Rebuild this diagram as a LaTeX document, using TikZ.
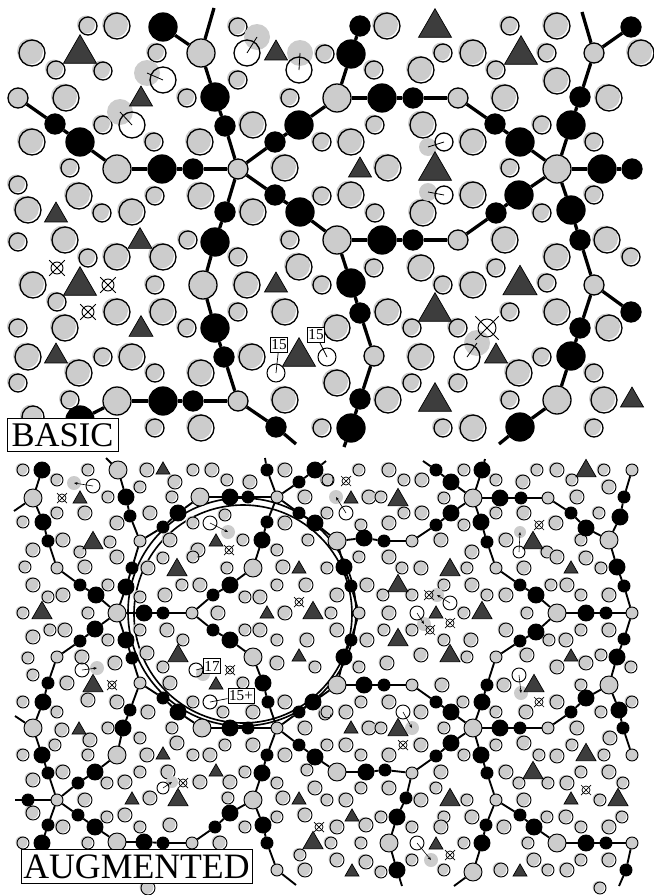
\documentclass[tikz,border=0pt]{standalone}
\usepackage{fontspec}
\setmainfont{Liberation Serif}
\usetikzlibrary{arrows.meta}

\begin{document}
\begin{tikzpicture}[
    x=0.03cm, y=-0.03cm,
    rim/.style={line width=1.1pt},
    thinrim/.style={line width=0.8pt},
    disk/.style={fill=gray!40},
    gbig/.style={circle, draw, line width=1.1pt, fill=gray!40, inner sep=0pt, minimum size=0.84cm},
    gsmall/.style={gbig, minimum size=0.6cm},
    kbig/.style={gbig, fill=black},
    ksmall/.style={gsmall, fill=black},
    pbig/.style={circle, draw, line width=0.8pt, fill=gray!40, inner sep=0pt, minimum size=0.54cm},
    psmall/.style={pbig, minimum size=0.36cm},
    ubig/.style={pbig, fill=black, minimum size=0.48cm},
    vsmall/.style={pbig, fill=black, minimum size=0.36cm},
    bond/.style={line width=2.8pt},
    bondthin/.style={line width=1.6pt},
    tri/.style={fill=black!76, draw=black, line width=0.6pt},
    numtag/.style={draw, fill=white, line width=0.6pt, inner xsep=1pt, inner ysep=2pt, font=\fontsize{13}{13}\selectfont},
    paneltitle/.style={draw, fill=white, line width=0.7pt, inner xsep=4pt, inner ysep=4.5pt, font=\fontsize{29.5}{30}\selectfont},
    ring/.style={circle, draw, line width=0.9pt, inner sep=0pt, minimum size=0.54cm}
]
\useasboundingbox (0,0) rectangle (654,895);

% ---------------- BASIC panel ----------------
% loose atoms
\foreach \x/\y/\rad in {88/26/9, 117/26/13, 32/53/13, 56/70/9, 103/71/9, 157/53/9, 238/27/9, 325/54/9, 238/80/9, 187/98/9, 66/98/13, 103/125/9, 253/125/13, 290/98/9, 32/142/13, 154/142/9, 200/142/13, 322/142/9, 70/168/9, 285/168/13, 18/185/9, 79/196/13, 155/196/9, 201/196/13, 322/196/9, 28/210/13, 102/213/9, 132/212/13, 253/212/13,
    387/26/13, 510/26/9, 557/26/13, 374/70/9, 421/70/13, 443/53/9, 473/53/13, 547/53/9, 496/70/9, 557/81/13, 609/98/13, 641/53/13, 505/98/13, 375/125/9, 423/125/13, 542/125/9, 351/142/13, 473/142/13, 594/142/9, 388/168/13, 510/168/9, 351/195/13, 473/195/13, 594/195/9, 375/213/9, 423/213/13, 542/213/9,
    18/242/9, 65/240/13, 188/240/9, 88/258/9, 117/257/13, 163/257/13, 238/257/9, 290/240/9, 299/267/13, 322/285/9, 33/285/13, 155/285/9, 247/285/13, 57/302/9, 117/312/13, 163/312/13, 238/312/9, 285/312/13, 18/328/9, 65/328/13, 187/328/9, 28/357/13, 103/357/9, 132/357/13, 252/357/13, 18/383/9, 79/373/13, 155/373/9, 201/373/13, 70/400/9, 285/400/13, 155/428/9, 201/428/13, 322/428/9, 33/417/11,
    505/240/13, 607/240/13, 631/257/9, 374/268/9, 421/268/13, 496/268/9, 557/257/13, 443/285/9, 473/285/13, 547/283/9, 388/312/13, 412/328/9, 458/328/9, 510/312/9, 557/312/13, 609/328/13, 337/328/13, 421/357/13, 542/357/9, 519/373/13, 337/383/13, 412/383/9, 458/383/9, 594/373/9, 388/400/13, 510/400/9, 604/400/13, 443/428/9, 473/428/13, 594/428/9}
{
    \fill[disk] (\x-2,\y-1.5) circle (\rad);
    \draw[rim] (\x,\y) circle (\rad);
}

% displaced atoms
\foreach \x/\y/\rad/\gx/\gy in {247/53/13/257/37, 299/70/13/300/53, 163/80/13/147/73, 132/125/13/120/112, 444/142/9/428/147, 444/195/9/428/192, 467/357/13/477/343}
{
    \fill[disk] (\gx,\gy) circle (\rad);
    \draw[rim] (\x,\y) circle (\rad);
    \draw[line width=0.7pt] (\x,\y) -- (\gx,\gy);
}

% triangles
\foreach \x/\y/\sz in {80/49/33, 276/50/23, 141/96/23, 56/212/23, 435/23/33, 521/50/33, 360/167/23, 435/166/33, 140/238/24, 80/281/33, 276/282/23, 141/326/24, 56/353/23, 299/352/33, 435/307/33, 520/280/34, 496/353/23, 435/397/33, 632/397/23}
    \filldraw[tri] (\x-\sz/2,\y+0.433*\sz) -- (\x+\sz/2,\y+0.433*\sz) -- (\x,\y-0.433*\sz) -- cycle;

% crossed sites
\foreach \x/\y/\rad in {57/268/6, 108/285/6, 88/312/6, 487/328/9}
{
    \draw[thinrim] (\x,\y) circle (\rad);
    \draw[thinrim] (\x-1.3*\rad,\y-1.3*\rad) -- (\x+1.3*\rad,\y+1.3*\rad);
    \draw[thinrim] (\x-1.3*\rad,\y+1.3*\rad) -- (\x+1.3*\rad,\y-1.3*\rad);
}

% network
\foreach \n/\x/\y in {g1/201/53, g2/117/169, g3/337/98, g4/557/169, g5/203/285, g6/117/401, g7/337/240, g8/557/400}
    \node[gbig] (\n) at (\x,\y) {};
\foreach \n/\x/\y in {h1/238/169, s1/18/98, s2/458/98, s3/594/53, s4/238/401, s5/458/240, s6/374/356, s7/594/285}
    \node[gsmall] (\n) at (\x,\y) {};
\foreach \n/\x/\y in {k1/163/27, k2/215/97, k3/80/142, k4/162/169, k5/299/125, k6/300/212, k7/351/54, k8/382/98, k9/520/142, k10/602/169, k11/571/125, k12/519/195, k13/571/210, k14/215/242, k15/215/328, k16/163/401, k17/80/420, k18/382/240, k19/351/283, k20/351/428, k21/571/356, k22/520/427}
    \node[kbig] (\n) at (\x,\y) {};
\foreach \n/\x/\y in {m1/225/126, m2/55/124, m3/193/169, m4/275/142, m5/275/195, m6/225/212, m7/360/26, m8/413/98, m9/495/124, m10/632/169, m11/580/97, m12/631/27, m13/496/213, m14/224/357, m15/193/401, m16/276/427, m17/413/240, m18/360/313, m19/360/399, m20/580/240, m21/631/312, m22/580/328}
    \node[ksmall] (\n) at (\x,\y) {};
\coordinate (e1) at (214,8);
\coordinate (e2) at (582,12);
\coordinate (e3) at (296,444);
\coordinate (e4) at (499,444);
\coordinate (e5) at (344,447);

\foreach \a/\b in {e1/g1, k1/g1, g1/k2, k2/m1, m1/h1, s1/m2, m2/k3, k3/g2, g2/k4, k4/m3, m3/h1,
    h1/m4, m4/k5, k5/g3, g3/k7, k7/m7, g3/k8, k8/m8, m8/s2, s2/m9, m9/k9, k9/g4,
    g4/k10, k10/m10, g4/k11, k11/m11, m11/s3, s3/e2, s3/m12,
    h1/m5, m5/k6, k6/g7, g4/k12, k12/m13, m13/s5, s5/m17, m17/k18, k18/g7,
    h1/m6, m6/k14, k14/g5, g5/k15, k15/m14, m14/s4, s4/m15, m15/k16, k16/g6, g6/k17, s4/m16, m16/e3,
    g7/k19, k19/m18, m18/s6, s6/m19, m19/k20, k20/e5,
    g4/k13, k13/m20, m20/s7, s7/m21, s7/m22, m22/k21, k21/g8, g8/k22, k22/e4}
    \draw[bond] (\a) -- (\b);

% marked sites
\node[ring] (c15a) at (276,373) {};
\node[ring] (c15b) at (327,357) {};
\node[numtag] (t15a) at (279,345) {15};
\node[numtag] (t15b) at (316,335) {15};
\draw[line width=0.6pt] (t15a) -- (c15a.center);
\draw[line width=0.6pt] (t15b) -- (c15b.center);

\node[paneltitle] (basic) at (62.5,435) {BASIC};

% ---------------- AUGMENTED panel ----------------
\draw[line width=1.4pt] (242,612) circle (114);
\draw[line width=1.4pt] (243,614) circle (109);

% loose atoms
\foreach \x/\y/\rad in {23/470/6, 57/480/6, 88/470/6, 147/470/7, 175/482/7, 193/470/6, 212/470/7, 227/480/6, 250/482/7, 285/470/7, 327/480/6, 108/497/6, 140/487/6, 172/497/6, 305/497/7, 23/522/6, 57/513/6, 85/513/7, 117/523/7, 150/513/7, 193/523/6, 225/515/6, 285/523/7, 33/550/7, 63/540/7, 110/542/6, 80/552/6, 170/540/7, 198/550/7, 243/540/6, 277/550/6, 308/540/6, 25/567/6, 85/567/7, 117/557/7, 148/568/7, 163/558/6, 193/557/6, 227/568/6, 283/567/7, 33/585/7, 48/597/6, 63/595/7, 108/585/6, 140/597/6, 165/595/7, 182/585/6, 200/585/7, 245/597/6, 260/597/7, 277/585/6, 306/585/7, 23/613/6, 88/613/6, 218/613/7, 285/613/7, 33/637/7, 50/630/6, 65/630/7, 108/640/6, 140/630/6, 167/630/7, 183/640/6, 245/630/6, 260/630/7, 277/640/6, 307/640/7, 28/658/6, 82/657/7, 115/663/7, 147/653/7, 163/667/6, 277/663/7, 315/667/6,
    328/480/6, 359/470/6, 389/470/7, 404/480/6, 422/480/7, 464/470/6, 496/480/6, 523/482/7, 537/470/6, 557/470/7, 572/480/6, 604/470/6, 609/487/7, 369/497/7, 381/497/6, 444/498/6, 577/497/7, 327/513/6, 361/525/6, 389/523/7, 404/513/6, 422/513/7, 464/525/6, 496/513/6, 524/513/7, 556/523/7, 599/513/6, 441/540/7, 506/540/7, 547/552/6, 557/557/7, 581/540/6, 586/558/7, 601/568/6, 327/568/6, 359/557/6, 389/557/7, 402/568/6, 421/568/7, 467/568/6, 472/552/7, 524/568/7, 567/585/7, 337/595/7, 367/585/7, 383/595/6, 412/595/6, 444/585/6, 472/585/7, 487/595/6, 506/595/7, 551/585/6, 581/595/6, 609/595/7, 331/613/6, 389/613/7, 464/613/6, 527/613/6, 337/630/7, 367/640/7, 384/630/6, 412/630/6, 444/640/6, 471/640/7, 506/630/7, 549/640/6, 566/640/7, 581/630/6, 609/630/7, 359/667/6, 387/663/7, 421/655/7, 467/657/6, 527/655/7, 557/667/7, 586/663/7, 601/655/6, 631/667/6,
    33/675/6, 67/683/7, 23/702/6, 57/712/6, 88/700/7, 117/702/7, 148/712/7, 170/683/7, 193/702/6, 223/712/6, 243/683/6, 253/712/7, 285/702/7, 325/714/6, 305/728/7, 62/730/7, 90/740/7, 108/728/6, 140/738/6, 172/728/6, 177/743/7, 55/745/6, 23/755/6, 88/755/6, 147/755/7, 193/755/6, 210/755/7, 225/745/6, 253/745/7, 285/755/7, 33/780/7, 63/772/7, 107/783/6, 125/782/7, 140/772/6, 168/772/7, 200/782/7, 230/782/7, 245/772/6, 277/783/6, 307/770/6, 315/788/7, 85/800/7, 150/798/7, 228/798/6, 283/798/7, 33/813/7, 63/827/7, 107/817/6, 125/815/7, 140/827/6, 170/825/7, 245/827/6, 277/817/6, 305/815/7, 23/843/6, 88/843/6, 220/843/7, 300/855/6, 305/870/7, 148/888/7,
    361/702/6, 389/702/7, 421/712/7, 442/685/7, 463/702/6, 496/712/6, 504/685/7, 557/702/7, 581/685/6, 601/712/6, 632/702/6, 526/712/7, 327/712/6, 346/712/7, 369/728/7, 381/728/6, 444/728/6, 577/728/7, 610/738/7, 327/745/6, 346/745/7, 361/755/6, 389/755/7, 421/745/7, 464/755/6, 496/745/6, 524/743/7, 539/755/6, 557/756/7, 572/745/6, 604/755/6, 441/772/7, 506/772/7, 519/783/6, 548/783/6, 567/783/7, 581/772/6, 609/772/7, 623/783/6, 327/800/6, 346/800/7, 361/788/6, 389/788/7, 421/800/7, 436/788/6, 467/800/6, 524/800/7, 600/800/6, 381/817/6, 444/817/6, 472/817/7, 547/817/6, 566/817/7, 622/817/6, 337/827/7, 366/825/7, 412/827/6, 441/827/7, 504/827/7, 581/827/6, 609/827/7, 331/843/6, 361/843/6, 464/843/6, 528/843/6, 337/860/7, 366/862/7, 381/872/6, 412/860/6, 444/870/6, 501/870/7, 534/860/7, 548/870/6, 567/870/7, 581/860/6, 609/860/7, 600/888/6}
{
    \fill[disk] (\x-1.5,\y-1) circle (\rad);
    \draw[thinrim] (\x,\y) circle (\rad);
}

% displaced atoms
\foreach \x/\y/\rad/\gx/\gy in {93/486/7/74/483, 210/523/7/228/532, 346/513/7/336/497, 519/552/6/520/532, 450/603/7/437/595, 417/613/7/424/624, 82/670/7/97/668, 163/788/6/172/782, 403/712/7/412/728, 519/675/7/521/693, 417/843/7/431/860}
{
    \fill[disk] (\gx,\gy) circle (\rad);
    \draw[thinrim] (\x,\y) circle (\rad);
    \draw[line width=0.5pt, -{Stealth[length=3pt, width=2.4pt]}] (\x,\y) -- (\gx,\gy);
}

% triangles
\foreach \x/\y/\sz in {163/468/14, 80/497/14, 93/540/20, 216/540/14, 177/567/20, 299/567/14, 42/610/20, 267/612/14, 313/610/20, 178/653/20, 299/655/14,
    586/468/20, 351/497/14, 398/497/20, 533/540/20, 450/567/20, 571/567/14, 398/583/20, 436/612/14, 482/610/20, 398/637/20, 450/653/20, 571/655/14,
    93/683/20, 216/683/14, 79/728/14, 163/753/14, 216/770/14, 132/798/14, 178/797/20, 299/798/14, 313/840/20,
    534/683/20, 351/727/14, 398/727/20, 586/752/20, 533/770/20, 450/797/20, 571/798/14, 618/797/20, 352/815/14, 436/843/14, 352/870/14, 520/870/14}
    \filldraw[tri] (\x-\sz/2,\y+0.433*\sz) -- (\x+\sz/2,\y+0.433*\sz) -- (\x,\y-0.433*\sz) -- cycle;

% crossed sites
\foreach \x/\y in {62/498, 229/550, 299/602, 230/670, 112/685, 183/783, 319/827, 346/481, 539/525, 429/595, 430/630, 450/623, 403/745, 539/702, 586/790, 450/855}
{
    \draw[line width=0.6pt] (\x,\y) circle (4);
    \draw[line width=0.6pt] (\x-5,\y-5) -- (\x+5,\y+5);
    \draw[line width=0.6pt] (\x-5,\y+5) -- (\x+5,\y-5);
}

% network
\foreach \n/\x/\y in {P1/33/498, P2/117/613, P3/118/470, P4/200/497, P5/253/568, P6/253/657, P7/473/498, P8/337/541, P9/609/540, P10/557/613, P11/33/728, P12/117/755, P13/117/842, P14/202/728, P15/253/800, P16/337/685, P17/473/728, P18/609/685, P19/337/772, P20/557/843, P21/473/872, P22/389/843}
    \node[pbig] (\n) at (\x,\y) {};
\foreach \n/\x/\y in {Q1/57/568, Q2/192/613, Q3/140/541, Q4/277/497, Q5/57/657, Q6/548/498, Q7/632/470, Q8/412/541, Q9/496/568, Q10/632/613, Q11/359/613, Q12/496/657, Q13/140/683, Q14/57/800, Q15/192/843, Q16/277/728, Q17/277/870, Q18/412/685, Q19/548/728, Q20/632/755, Q21/412/773, Q22/496/800, Q23/632/843}
    \node[psmall] (\n) at (\x,\y) {};
\foreach \n/\x/\y in {U1/42/470, U2/43/522, U3/96/595, U4/144/613, U5/95/629, U6/126/587, U7/126/497, U8/178/513, U9/230/497, U10/315/470, U11/262/540, U12/230/585, U13/230/640, U14/315/523, U15/126/640, U16/451/482, U17/482/470, U18/500/498, U19/586/528, U20/620/517, U21/617/567, U22/617/657, U23/451/513, U24/364/538, U25/481/522, U26/536/595, U27/586/613, U28/536/632, U29/344/567, U30/344/657,
    U31/43/702, U32/42/755, U33/95/772, U34/123/728, U35/95/827, U36/144/842, U37/42/843, U38/178/712, U39/230/728, U40/263/683, U41/262/773, U42/230/813, U43/263/825, U44/315/757, U45/313/702, U46/364/685, U47/451/712, U48/482/702, U49/500/728, U50/586/698, U51/619/710, U52/451/743, U53/366/772, U54/481/755, U55/534/827, U56/586/843, U57/482/843, U58/397/817, U59/397/870}
    \node[ubig] (\n) at (\x,\y) {};
\foreach \n/\x/\y in {V1/48/541, V2/80/585, V3/163/613, V4/80/641, V5/132/568, V6/130/516, V7/163/527, V8/248/497, V9/299/482, V10/267/470, V11/267/522, V12/213/595, V13/213/630, V14/299/513, V15/132/658, V16/436/470, V17/521/498, V18/571/513, V19/624/497, V20/624/586, V21/624/639, V22/436/525, V23/384/541, V24/487/542, V25/520/585, V26/606/613, V27/520/641, V28/351/586, V29/351/640,
    V30/48/683, V31/48/773, V32/28/800, V33/78/783, V34/130/710, V35/78/815, V36/163/843, V37/48/825, V38/163/698, V39/248/728, V40/268/702, V41/267/755, V42/215/827, V43/267/843, V44/299/745, V45/299/712, V46/384/685, V47/436/702, V48/487/685, V49/520/728, V50/571/712, V51/623/728, V52/436/756, V53/385/770, V54/487/773, V55/520/815, V56/606/843, V57/626/870, V58/486/825, V59/406/798}
    \node[vsmall] (\n) at (\x,\y) {};
\coordinate (f1) at (14,511);
\coordinate (f2) at (106,458);
\coordinate (f3) at (326,461);
\coordinate (f4) at (265,458);
\coordinate (f5) at (15,716);
\coordinate (f6) at (15,800);
\coordinate (f7) at (296,885);
\coordinate (f8) at (423,461);
\coordinate (f9) at (485,459);
\coordinate (f10) at (619,886);
\coordinate (f11) at (454,886);
\coordinate (f12) at (402,886);

\foreach \a/\b in {U1/P1, P1/f1, P1/U2, U2/V1, V1/Q1, Q1/V2, V2/U3, U3/P2,
    P2/U4, U4/V3, V3/Q2, P2/U5, U5/V4, V4/Q5, P2/U6, U6/V5, V5/Q3, P2/U15, U15/V15, V15/Q13,
    Q3/V6, V6/U7, U7/P3, P3/f2,
    Q3/V7, V7/U8, U8/P4, P4/U9, U9/V8, V8/Q4, Q4/V9, V9/U10, U10/f3, Q4/V10, V10/f4,
    Q4/V11, V11/U11, U11/P5, P5/U12, U12/V12, V12/Q2, Q4/V14, V14/U14, U14/P8,
    Q2/V13, V13/U13, U13/P6, P6/U40, U40/V40, V40/Q16,
    Q5/V30, V30/U31, U31/P11, P11/f5, P11/U32, U32/V31, V31/Q14,
    Q14/V32, V32/f6, Q14/V33, V33/U33, U33/P12, Q14/V35, V35/U35, U35/P13, Q14/V37, V37/U37,
    P12/U34, U34/V34, V34/Q13, P13/U36, U36/V36, V36/Q15,
    Q13/V38, V38/U38, U38/P14, P14/U39, U39/V39, V39/Q16,
    Q16/V41, V41/U41, U41/P15, P15/U42, U42/V42, V42/Q15, P15/U43, U43/V43, V43/Q17, Q17/f7,
    Q16/V44, V44/U44, U44/P19, Q16/V45, V45/U45, U45/P16,
    P8/U24, U24/V23, V23/Q8, Q8/V22, V22/U23, U23/P7,
    P7/U16, U16/V16, V16/f8, P7/U17, U17/f9, P7/U18, U18/V17, V17/Q6, Q6/V18, V18/U19, U19/P9,
    Q7/V19, V19/U20, U20/P9, P9/U21, U21/V20, V20/Q10, Q10/V21, V21/U22, U22/P18,
    P7/U25, U25/V24, V24/Q9, Q9/V25, V25/U26, U26/P10, P10/U27, U27/V26, V26/Q10, P10/U28, U28/V27, V27/Q12,
    P8/U29, U29/V28, V28/Q11, Q11/V29, V29/U30, U30/P16,
    P16/U46, U46/V46, V46/Q18, Q18/V47, V47/U47, U47/P17,
    Q12/V48, V48/U48, U48/P17,
    P17/U49, U49/V49, V49/Q19, Q19/V50, V50/U50, U50/P18, P18/U51, U51/V51, V51/Q20,
    P17/U52, U52/V52, V52/Q21, Q21/V53, V53/U53, U53/P19,
    P17/U54, U54/V54, V54/Q22, Q22/V55, V55/U55, U55/P20, P20/U56, U56/V56, V56/Q23, Q23/V57, V57/f10,
    Q22/V58, V58/U57, U57/P21, P21/f11,
    Q21/V59, V59/U58, U58/P22, P22/U59, U59/f12}
    \draw[bondthin] (\a) -- (\b);

% marked sites
\fill[disk] (203,674) circle (7);
\node[ring, minimum size=0.42cm] (c17) at (196,670) {};
\node[ring, minimum size=0.42cm] (c15p) at (210,702) {};
\node[numtag] (t17) at (212,666) {17};
\node[numtag] (t15p) at (241,696) {15+};
\draw[line width=0.6pt] (t17) -- (c17.center);
\draw[line width=0.6pt] (t15p) -- (c15p.center);

\node[paneltitle, inner xsep=2pt, inner ysep=4pt, font=\fontsize{30.5}{31}\selectfont] (augmented) at (136.5,866.5) {AUGMENTED};

\end{tikzpicture}
\end{document}
